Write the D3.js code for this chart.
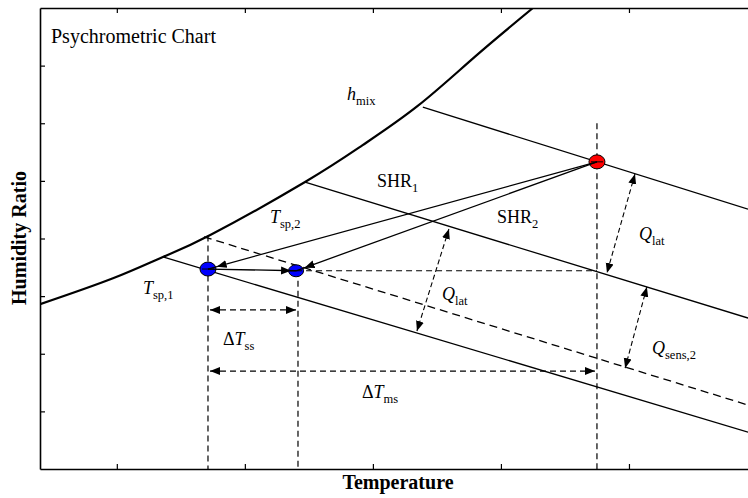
<!DOCTYPE html>
<html>
<head>
<meta charset="utf-8">
<script src="https://cdn.jsdelivr.net/npm/d3@7"></script>
<style>
    body { margin: 0; background: #fff; }
    #chart-area { width: 748px; height: 498px; }
    text { font-family: "Liberation Serif", "Times New Roman", serif; fill: #000; }
</style>
</head>
<body>
<div id="chart-area"></div>
<script>
// tick positions (no labels on this chart)
const xTicks = [1, 2, 3, 4, 5];
const yTicks = [1, 2, 3, 4, 5, 6, 7];

// saturation curve (temperature, humidity ratio)
const satT = [0.40, 0.97, 1.36, 1.73, 2.47, 2.92, 3.35, 3.80, 4.25];
const satW = [2.86, 3.31, 3.68, 4.06, 4.98, 5.62, 6.30, 7.16, 8.00];

// constant enthalpy lines
const hLines = ["hmix", "shr1", "supply", "tsp1"];
const hStartT = [3.39, 2.47, 1.68, 1.36];
const hStartW = [6.28, 4.98, 4.03, 3.68];
const hEndT = [5.93, 5.93, 5.93, 5.93];
const hEndW = [4.51, 2.62, 1.11, 0.64];

// state points
const pointNames = ["sp1", "sp2", "mix"];
const pointT = [1.712, 2.40, 4.75];
const pointW = [3.47, 3.44, 5.33];

// vertical guide lines go from this humidity ratio down to the axis
const guideT = [1.712, 2.415, 4.75];
const guideTop = [4.05, 3.44, 6.00];

// temperature differences
const dimNames = ["dTss", "dTms"];
const dimW = [2.76, 1.70];
const dimFrom = [1.712, 1.712];
const dimTo = [2.415, 4.75];

// load arrows between enthalpy lines
const loadNames = ["QlatL", "QlatR", "Qsens2"];
const loadT1 = [3.594, 5.047, 5.14];
const loadW1 = [4.165, 5.12, 3.16];
const loadT2 = [3.344, 4.828, 4.97];
const loadW2 = [2.395, 3.40, 1.75];

// labels: main part, subscript, position
const labelMain = ["h", "SHR", "SHR", "T", "T", "\u0394T", "\u0394T", "Q", "Q", "Q"];
const labelSub = ["mix", "1", "2", "sp,2", "sp,1", "ss", "ms", "lat", "lat", "sens,2"];
const labelT = [2.798, 3.032, 3.969, 2.196, 1.204, 1.829, 2.915, 3.54, 5.078, 5.18];
const labelW = [6.40, 4.89, 4.27, 4.27, 3.04, 2.15, 1.23, 2.93, 3.97, 2.00];

class PsychroChart {
    constructor(parentElement) {
        this.parentElement = parentElement;
        this.initVis();
    }

    initVis() {
        let vis = this;

        vis.width = 748;
        vis.height = 498;

        vis.svg = d3.select("#" + vis.parentElement).append("svg")
            .attr("width", vis.width)
            .attr("height", vis.height);

        // plot runs off the right edge of the picture
        vis.x = d3.scaleLinear()
            .domain([0.4, 6.0])
            .range([40, 757]);

        vis.y = d3.scaleLinear()
            .domain([0, 8])
            .range([469, 8]);

        vis.svg.append("clipPath")
            .attr("id", "clip")
            .append("rect")
            .attr("x", 40)
            .attr("y", 8)
            .attr("width", 717)
            .attr("height", 461);

        let defs = vis.svg.append("defs");
        // arrow heads; refX moves the tip back from the line end
        [["head", 10], ["headShort", 15], ["headInset", 19]].forEach(m => {
            defs.append("marker")
                .attr("id", m[0])
                .attr("markerUnits", "userSpaceOnUse")
                .attr("viewBox", "0 -5 20 10")
                .attr("refX", m[1])
                .attr("refY", 0)
                .attr("markerWidth", 20)
                .attr("markerHeight", 10)
                .attr("orient", "auto-start-reverse")
                .append("path")
                .attr("d", "M0,-4L10,0L0,4Z")
                .attr("fill", "#000");
        });

        vis.plot = vis.svg.append("g").attr("clip-path", "url(#clip)");

        vis.wrangleData();
    }

    wrangleData() {
        let vis = this;

        vis.satData = satT.map((t, i) => ({t: t, w: satW[i]}));
        vis.hData = hLines.map((n, i) => ({
            name: n, t1: hStartT[i], w1: hStartW[i], t2: hEndT[i], w2: hEndW[i]
        }));
        vis.points = pointNames.map((n, i) => ({
            name: n, t: pointT[i], w: pointW[i], gt: guideT[i], top: guideTop[i]
        }));
        vis.dims = dimNames.map((n, i) => ({name: n, w: dimW[i], t1: dimFrom[i], t2: dimTo[i]}));
        vis.loads = loadNames.map((n, i) => ({
            name: n, t1: loadT1[i], w1: loadW1[i], t2: loadT2[i], w2: loadW2[i]
        }));
        vis.labels = labelMain.map((m, i) => ({main: m, sub: labelSub[i], t: labelT[i], w: labelW[i]}));

        vis.updateVis();
    }

    updateVis() {
        let vis = this;
        let p = vis.points;
        let byName = {};
        p.forEach(d => byName[d.name] = d);

        // axes: inward ticks, no labels
        vis.svg.append("g")
            .attr("class", "x axis")
            .attr("transform", "translate(0," + vis.y(0) + ")")
            .call(d3.axisBottom(vis.x).tickValues(xTicks).tickSize(-5).tickSizeOuter(0).tickFormat(""));

        vis.svg.append("g")
            .attr("class", "x axis top")
            .attr("transform", "translate(0," + vis.y(8) + ")")
            .call(d3.axisTop(vis.x).tickValues(xTicks).tickSize(-5).tickSizeOuter(0).tickFormat(""));

        vis.svg.append("g")
            .attr("class", "y axis")
            .attr("transform", "translate(" + vis.x(0.4) + ",0)")
            .call(d3.axisLeft(vis.y).tickValues(yTicks).tickSize(-5).tickSizeOuter(0).tickFormat(""));

        vis.svg.selectAll(".axis path").attr("stroke-width", 1.6);
        vis.svg.selectAll(".axis line").attr("stroke-width", 1.2);

        // vertical and horizontal dashed guides
        vis.plot.selectAll(".guide")
            .data(p)
            .enter().append("line")
            .attr("class", "guide")
            .attr("x1", d => vis.x(d.gt))
            .attr("x2", d => vis.x(d.gt))
            .attr("y1", d => vis.y(d.top))
            .attr("y2", vis.y(0))
            .attr("stroke", "#000")
            .attr("stroke-width", 1.2)
            .attr("stroke-dasharray", "6,4");

        vis.plot.append("line")
            .attr("x1", vis.x(byName.sp2.t))
            .attr("x2", vis.x(byName.mix.t))
            .attr("y1", vis.y(byName.sp2.w))
            .attr("y2", vis.y(byName.sp2.w))
            .attr("stroke", "#000")
            .attr("stroke-width", 1.2)
            .attr("stroke-dasharray", "6,4");

        // saturation curve
        let line = d3.line()
            .x(d => vis.x(d.t))
            .y(d => vis.y(d.w))
            .curve(d3.curveNatural);

        vis.plot.append("path")
            .datum(vis.satData)
            .attr("fill", "none")
            .attr("stroke", "#000")
            .attr("stroke-width", 2.2)
            .attr("d", line);

        // enthalpy lines
        vis.plot.selectAll(".hline")
            .data(vis.hData)
            .enter().append("line")
            .attr("class", "hline")
            .attr("x1", d => vis.x(d.t1))
            .attr("y1", d => vis.y(d.w1))
            .attr("x2", d => vis.x(d.t2))
            .attr("y2", d => vis.y(d.w2))
            .attr("stroke", "#000")
            .attr("stroke-width", 1.3)
            .attr("stroke-dasharray", d => d.name === "supply" ? "8,5" : null);

        // state points
        vis.plot.selectAll(".dot")
            .data(p)
            .enter().append("ellipse")
            .attr("class", "dot")
            .attr("cx", d => vis.x(d.t))
            .attr("cy", d => vis.y(d.w))
            .attr("rx", d => d.name === "sp2" ? 7.5 : 8)
            .attr("ry", d => d.name === "sp2" ? 6 : 7)
            .attr("fill", d => d.name === "mix" ? "#ff0000" : "#0000ff")
            .attr("stroke", "#000")
            .attr("stroke-width", 1);

        // small cross marks inside the points
        vis.plot.selectAll(".cross")
            .data(p)
            .enter().append("line")
            .attr("class", "cross")
            .attr("x1", d => vis.x(d.t) - 6)
            .attr("x2", d => vis.x(d.t) + 6)
            .attr("y1", d => vis.y(d.w))
            .attr("y2", d => vis.y(d.w))
            .attr("stroke", "#000")
            .attr("stroke-width", 1);

        // process arrows
        let proc = [["mix", "sp1"], ["mix", "sp2"], ["sp1", "sp2"]];
        vis.plot.selectAll(".proc")
            .data(proc)
            .enter().append("line")
            .attr("class", "proc")
            .attr("x1", d => vis.x(byName[d[0]].t))
            .attr("y1", d => vis.y(byName[d[0]].w))
            .attr("x2", d => vis.x(byName[d[1]].t))
            .attr("y2", d => vis.y(byName[d[1]].w))
            .attr("stroke", "#000")
            .attr("stroke-width", 1.3)
            .attr("marker-end", d => d[0] === "sp1" ? "url(#headShort)" : "url(#headInset)");

        // temperature difference arrows
        vis.plot.selectAll(".dim")
            .data(vis.dims)
            .enter().append("line")
            .attr("class", "dim")
            .attr("x1", d => vis.x(d.t1) + 2)
            .attr("x2", d => vis.x(d.t2) - 2)
            .attr("y1", d => vis.y(d.w))
            .attr("y2", d => vis.y(d.w))
            .attr("stroke", "#000")
            .attr("stroke-width", 1.2)
            .attr("stroke-dasharray", "6,4")
            .attr("marker-start", "url(#head)")
            .attr("marker-end", "url(#head)");

        // load arrows
        vis.plot.selectAll(".load")
            .data(vis.loads)
            .enter().append("line")
            .attr("class", "load")
            .attr("x1", d => vis.x(d.t1))
            .attr("y1", d => vis.y(d.w1))
            .attr("x2", d => vis.x(d.t2))
            .attr("y2", d => vis.y(d.w2))
            .attr("stroke", "#000")
            .attr("stroke-width", 1.1)
            .attr("stroke-dasharray", "5,3")
            .attr("marker-start", "url(#head)")
            .attr("marker-end", "url(#head)");

        // labels with subscripts
        let lab = vis.svg.selectAll(".lab")
            .data(vis.labels)
            .enter().append("text")
            .attr("class", "lab")
            .attr("x", d => vis.x(d.t))
            .attr("y", d => vis.y(d.w))
            .style("font-size", "18px");

        lab.each(function (d) {
            let el = d3.select(this);
            if (d.main.startsWith("\u0394")) {
                el.append("tspan").text("\u0394");
                el.append("tspan").style("font-style", "italic").text("T");
            } else {
                el.append("tspan")
                    .style("font-style", d.main === "SHR" ? "normal" : "italic")
                    .text(d.main);
            }
            el.append("tspan")
                .attr("dy", 5)
                .style("font-size", "12.5px")
                .text(d.sub);
        });

        vis.svg.append("text")
            .attr("x", 51)
            .attr("y", 43)
            .style("font-size", "20px")
            .text("Psychrometric Chart");

        // axis titles
        vis.svg.append("text")
            .attr("x", 398)
            .attr("y", 489)
            .attr("text-anchor", "middle")
            .style("font-size", "20px")
            .style("font-weight", "bold")
            .text("Temperature");

        vis.svg.append("text")
            .attr("transform", "translate(26,238) rotate(-90)")
            .attr("text-anchor", "middle")
            .style("font-size", "20px")
            .style("font-weight", "bold")
            .text("Humidity Ratio");
    }
}

new PsychroChart("chart-area");
</script>
</body>
</html>
